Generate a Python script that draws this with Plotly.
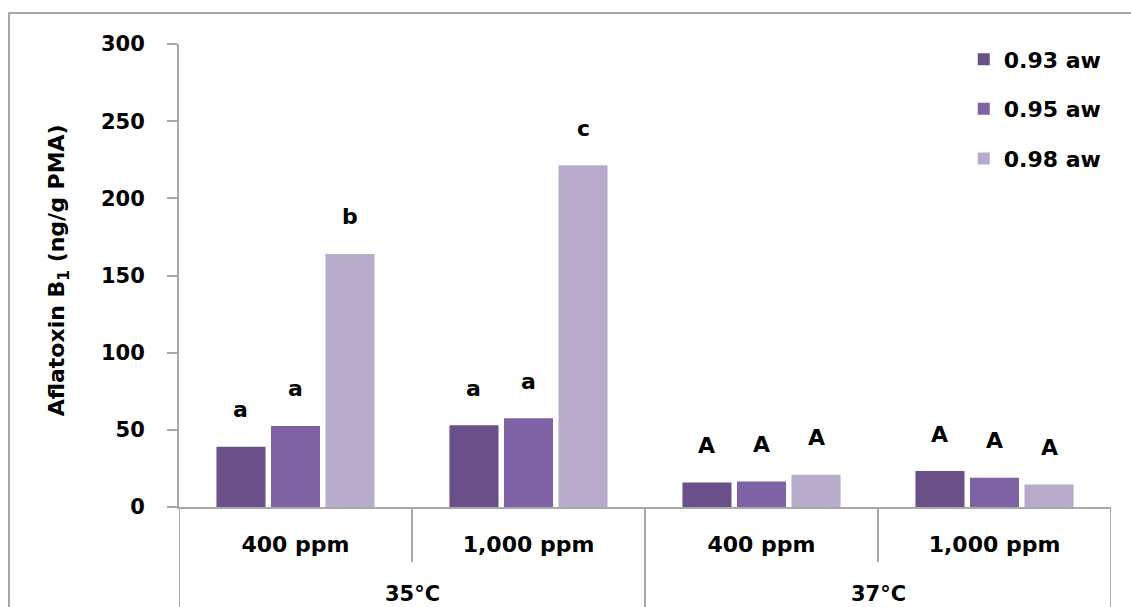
import plotly.graph_objects as go

# Aflatoxin B1 production by water activity, CO2 level and temperature
temperatures = ["35°C", "35°C", "37°C", "37°C"]
co2_levels = ["400 ppm", "1,000 ppm", "400 ppm", "1,000 ppm"]
aw_names = ["0.93 aw", "0.95 aw", "0.98 aw"]
afb1_093 = [39.0, 53.0, 15.8, 23.3]
afb1_095 = [52.5, 57.5, 16.6, 19.0]
afb1_098 = [164.0, 221.5, 20.9, 14.5]
letters_093 = ["a", "a", "A", "A"]
letters_095 = ["a", "a", "A", "A"]
letters_098 = ["b", "c", "A", "A"]
y_ticks = [0, 50, 100, 150, 200, 250, 300]

series = [afb1_093, afb1_095, afb1_098]
letters = [letters_093, letters_095, letters_098]
colors = ["#6a4f88", "#7f62a3", "#b6abca"]

FONT = "DejaVu Sans"
GRAY = "#a8a8a8"
BARGAP = 0.298
BARGROUPGAP = 0.10

xpos = list(range(len(co2_levels)))

fig = go.Figure()
for name, vals, col in zip(aw_names, series, colors):
    fig.add_trace(go.Bar(
        x=xpos, y=vals, name=name, legendgroup=name,
        marker=dict(color=col, line=dict(width=0)),
    ))

# significance letters above each bar
slot = (1 - BARGAP) / len(series)
for i, (vals, labs) in enumerate(zip(series, letters)):
    off = (i - (len(series) - 1) / 2) * slot
    for xi, v, lab in zip(xpos, vals, labs):
        fig.add_annotation(
            x=xi + off, y=v, xref="x", yref="y", text=lab, showarrow=False,
            yshift=37, yanchor="middle",
            font=dict(family=FONT, size=22, color="black", weight="bold"),
        )

# y-axis title
fig.add_annotation(
    x=-0.146, y=0.512, xref="paper", yref="paper", textangle=-90,
    text="Aflatoxin B<sub>1</sub> (ng/g PMA)", showarrow=False,
    font=dict(family=FONT, size=22, color="black", weight="bold"),
)

# temperature labels under the CO2 labels
for temp, xc in [("35°C", 0.5), ("37°C", 2.5)]:
    fig.add_annotation(
        x=xc, y=-0.187, xref="x", yref="paper", text=temp, showarrow=False,
        yanchor="middle",
        font=dict(family=FONT, size=21, color="black", weight="bold"),
    )

# category table lines below the axis
shapes = []
for xv, ybot in [(-0.5, -0.4), (0.5, -0.119), (1.5, -0.4), (2.5, -0.119), (3.5, -0.4)]:
    shapes.append(dict(type="line", xref="x", yref="paper", x0=xv, x1=xv,
                       y0=0, y1=ybot, line=dict(color=GRAY, width=2)))
# outer frame
shapes.append(dict(type="rect", xref="paper", yref="paper",
                   x0=-0.1824, x1=1.06, y0=-0.4, y1=1.067,
                   line=dict(color=GRAY, width=2), fillcolor="rgba(0,0,0,0)"))

fig.update_layout(
    width=1131, height=607,
    margin=dict(l=179, r=20, t=44, b=100),
    paper_bgcolor="white", plot_bgcolor="white",
    barmode="group", bargap=BARGAP, bargroupgap=BARGROUPGAP,
    font=dict(family=FONT, size=20, color="black", weight="bold"),
    shapes=shapes,
    showlegend=True,
    legend=dict(
        x=0.842, y=1.012, xanchor="left", yanchor="top",
        font=dict(family=FONT, size=22, color="black", weight="bold"),
        tracegroupgap=18, bgcolor="rgba(0,0,0,0)",
    ),
    xaxis=dict(
        range=[-0.5, 3.5], tickmode="array", tickvals=xpos, ticktext=co2_levels,
        showline=True, linecolor=GRAY, linewidth=2, ticks="",
        showgrid=False, zeroline=False, ticklabelstandoff=17,
        tickfont=dict(family=FONT, size=22, color="black", weight="bold"),
    ),
    yaxis=dict(
        range=[0, 300], tickmode="array", tickvals=y_ticks,
        showline=True, linecolor=GRAY, linewidth=2,
        ticks="outside", ticklen=10, tickwidth=2, tickcolor=GRAY,
        showgrid=False, zeroline=False, ticklabelstandoff=18,
        tickfont=dict(family=FONT, size=21, color="black", weight="bold"),
    ),
)

fig.write_html("out.html")
